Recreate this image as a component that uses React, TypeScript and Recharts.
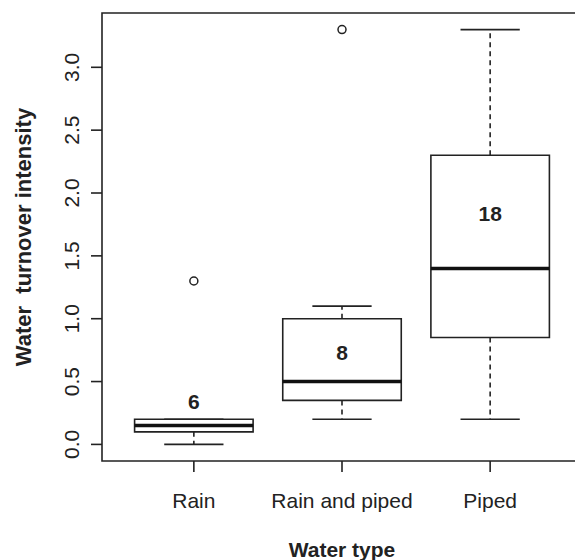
import React from 'react';
import {
  ComposedChart,
  XAxis,
  YAxis,
  Scatter,
  ReferenceArea,
  ReferenceLine,
} from 'recharts';

// Box plot summary per water type
const groups = ['Rain', 'Rain and piped', 'Piped'];
const lowerWhisker = [0.0, 0.2, 0.2];
const q1 = [0.1, 0.35, 0.85];
const median = [0.15, 0.5, 1.4];
const q3 = [0.2, 1.0, 2.3];
const upperWhisker = [0.2, 1.1, 3.3];
const outliers = [[1.3], [3.3], []];
const counts = [6, 8, 18];
const countY = [0.34, 0.73, 1.84];

const yTicks = [0, 0.5, 1, 1.5, 2, 2.5, 3];
const xTicks = [1, 2, 3];

// R-style extended ranges (4% padding)
const X_DOMAIN: [number, number] = [0.38, 3.62];
const Y_DOMAIN: [number, number] = [-0.132, 3.432];

const INK = '#222';
const FONT = '"Liberation Sans", Arial, Helvetica, sans-serif';

const outlierData = outliers.flatMap((vals, i) => vals.map((v) => ({ x: i + 1, y: v })));
const countData = counts.map((n, i) => ({ x: i + 1, y: countY[i], n }));

const XTick = ({ x, y, payload }: any) => (
  <text x={x} y={y} textAnchor="middle" fontSize={21} fontFamily={FONT} fill={INK}>
    {groups[payload.value - 1]}
  </text>
);

const YTick = ({ x, y, payload }: any) => (
  <text
    x={x}
    y={y}
    transform={`rotate(-90, ${x}, ${y})`}
    textAnchor="middle"
    fontSize={21}
    fontFamily={FONT}
    fill={INK}
  >
    {Number(payload.value).toFixed(1)}
  </text>
);

export default function App() {
  return (
    <div
      style={{
        position: 'fixed',
        left: 0,
        top: 0,
        width: 575,
        height: 560,
        overflow: 'hidden',
        background: '#fff',
      }}
    >
      <ComposedChart width={600} height={560} margin={{ top: 13, right: 18, bottom: 0, left: 0 }}>
        <XAxis
          type="number"
          dataKey="x"
          domain={X_DOMAIN}
          ticks={xTicks}
          allowDataOverflow
          axisLine={false}
          tickLine={{ stroke: INK, strokeWidth: 1.6 }}
          tickSize={11}
          tickMargin={36}
          tick={<XTick />}
          height={99}
          label={{
            value: 'Water type',
            position: 'insideBottom',
            offset: 3,
            style: { fontSize: 21, fontWeight: 'bold', fontFamily: FONT, fill: INK },
          }}
        />
        <YAxis
          type="number"
          dataKey="y"
          domain={Y_DOMAIN}
          ticks={yTicks}
          allowDataOverflow
          axisLine={false}
          tickLine={{ stroke: INK, strokeWidth: 1.6 }}
          tickSize={11}
          tickMargin={12}
          tick={<YTick />}
          width={102}
          label={{
            value: 'Water\u00a0 turnover intensity',
            angle: -90,
            position: 'insideLeft',
            offset: 23,
            style: { textAnchor: 'middle', fontSize: 22, fontWeight: 'bold', fontFamily: FONT, fill: INK },
          }}
        />

        {/* plot frame */}
        <ReferenceArea
          x1={X_DOMAIN[0]}
          x2={X_DOMAIN[1]}
          y1={Y_DOMAIN[0]}
          y2={Y_DOMAIN[1]}
          fill="none"
          fillOpacity={0}
          stroke={INK}
          strokeWidth={1.6}
          ifOverflow="visible"
        />

        {/* dashed whiskers */}
        {groups.map((g, i) => (
          <ReferenceLine
            key={`wu-${g}`}
            segment={[{ x: i + 1, y: q3[i] }, { x: i + 1, y: upperWhisker[i] }]}
            stroke={INK}
            strokeWidth={1.6}
            strokeDasharray="5 4"
            ifOverflow="visible"
          />
        ))}
        {groups.map((g, i) => (
          <ReferenceLine
            key={`wl-${g}`}
            segment={[{ x: i + 1, y: q1[i] }, { x: i + 1, y: lowerWhisker[i] }]}
            stroke={INK}
            strokeWidth={1.6}
            strokeDasharray="5 4"
            ifOverflow="visible"
          />
        ))}

        {/* whisker caps */}
        {groups.map((g, i) => (
          <ReferenceLine
            key={`cu-${g}`}
            segment={[{ x: i + 0.8, y: upperWhisker[i] }, { x: i + 1.2, y: upperWhisker[i] }]}
            stroke={INK}
            strokeWidth={1.6}
            ifOverflow="visible"
          />
        ))}
        {groups.map((g, i) => (
          <ReferenceLine
            key={`cl-${g}`}
            segment={[{ x: i + 0.8, y: lowerWhisker[i] }, { x: i + 1.2, y: lowerWhisker[i] }]}
            stroke={INK}
            strokeWidth={1.6}
            ifOverflow="visible"
          />
        ))}

        {/* boxes */}
        {groups.map((g, i) => (
          <ReferenceArea
            key={`box-${g}`}
            x1={i + 0.6}
            x2={i + 1.4}
            y1={q1[i]}
            y2={q3[i]}
            fill="#fff"
            fillOpacity={1}
            stroke={INK}
            strokeWidth={1.6}
            ifOverflow="visible"
          />
        ))}

        {/* medians */}
        {groups.map((g, i) => (
          <ReferenceLine
            key={`med-${g}`}
            segment={[{ x: i + 0.6, y: median[i] }, { x: i + 1.4, y: median[i] }]}
            stroke="#111"
            strokeWidth={3.5}
            ifOverflow="visible"
          />
        ))}

        <Scatter
          data={outlierData}
          isAnimationActive={false}
          shape={(p: any) => (
            <circle cx={p.cx} cy={p.cy} r={4} fill="#fff" stroke={INK} strokeWidth={1.5} />
          )}
        />
        <Scatter
          data={countData}
          isAnimationActive={false}
          shape={(p: any) => (
            <text
              x={p.cx}
              y={p.cy}
              dy="0.36em"
              textAnchor="middle"
              fontSize={21}
              fontWeight="bold"
              fontFamily={FONT}
              fill={INK}
            >
              {p.payload.n}
            </text>
          )}
        />
      </ComposedChart>
    </div>
  );
}
